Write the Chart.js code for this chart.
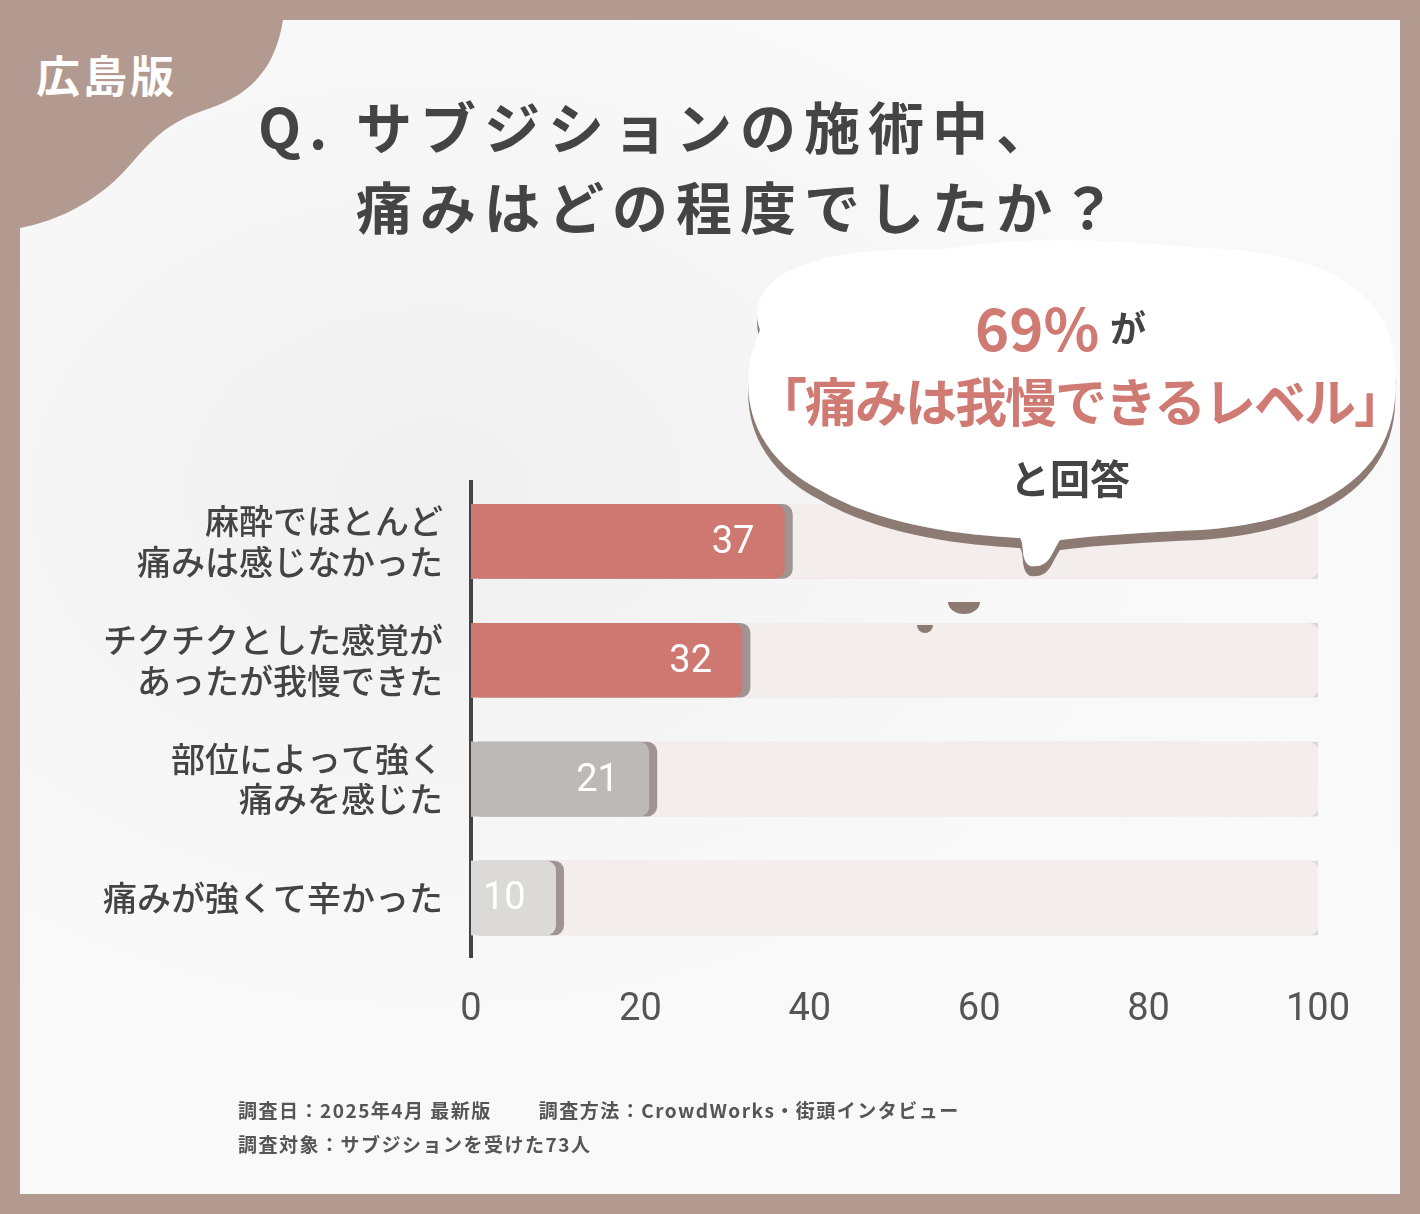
<!DOCTYPE html>
<html><head><meta charset="utf-8">
<script src="https://cdn.jsdelivr.net/npm/chart.js@4.4.0/dist/chart.umd.min.js"></script>
<style>
html,body{margin:0;padding:0;}
body{width:1420px;height:1214px;background:#b39a90;position:relative;overflow:hidden;font-family:"Noto Sans CJK JP",sans-serif;}
#inner{position:absolute;left:20px;top:20px;width:1380px;height:1174px;background:radial-gradient(ellipse at 30% 40%,#f1f0f0 0%,#f8f8f8 45%,#fafafa 100%);}
#c{position:absolute;left:0;top:0;}
.t{position:absolute;white-space:nowrap;}
</style></head><body>
<div id="inner"></div>
<svg style="position:absolute;left:0;top:0" width="1420" height="1214">
<path d="M20 20 L283 20 C275 70 250 95 205 110 C150 128 140 160 110 185 C80 210 50 222 20 228 Z" fill="#b39a90"/>
</svg>
<div class="t" style="left:36px;top:42px;font-size:44px;font-weight:700;color:#fff;letter-spacing:3px;">広島版</div>
<div class="t" style="left:258px;top:84px;font-size:56px;font-weight:700;color:#444;letter-spacing:8px;">Q. サブジションの施術中、</div>
<div class="t" style="left:356px;top:164px;font-size:56px;font-weight:700;color:#444;letter-spacing:8px;">痛みはどの程度でしたか？</div>
<canvas id="c" width="1420" height="1214"></canvas>
<svg style="position:absolute;left:0;top:0" width="1420" height="1214">
<defs><filter id="sh" x="-10%" y="-10%" width="120%" height="130%"><feDropShadow dx="0" dy="10" stdDeviation="0" flood-color="#8d7a73"/></filter></defs>
<g filter="url(#sh)">
<path d="M760 330 C740 270 830 245 940 250 C1020 235 1120 240 1200 248 C1320 250 1400 290 1395 380 C1400 460 1340 520 1200 530 C1150 532 1100 535 1060 540 C1050 555 1050 568 1030 566 C1020 560 1025 545 1020 538 C960 535 880 525 820 490 C760 460 730 400 760 330 Z" fill="#fff"/>
</g>
<path d="M917 625 a8 8 0 0 0 16 0" fill="#8d7a73"/>
<path d="M948 602 a16 12 0 0 0 32 0" fill="#8d7a73"/>
</svg>
<div class="t" style="left:975px;top:284px;font-size:58px;font-weight:700;color:#d07a74;">69%</div>
<div class="t" style="left:1110px;top:300px;font-size:36px;font-weight:700;color:#444;">が</div>
<div class="t" style="left:755px;top:362px;font-size:52px;font-weight:700;color:#d07a74;letter-spacing:-2px;">「痛みは我慢できるレベル」</div>
<div class="t" style="left:1010px;top:448px;font-size:40px;font-weight:700;color:#444;">と回答</div>
<div class="t" style="left:238px;top:1096px;font-size:19px;font-weight:700;color:#555;letter-spacing:1.5px;">調査日：2025年4月 最新版　　 調査方法：CrowdWorks・街頭インタビュー</div>
<div class="t" style="left:238px;top:1130px;font-size:19px;font-weight:700;color:#555;letter-spacing:1.5px;">調査対象：サブジションを受けた73人</div>
<script>
const categories=[["麻酔でほとんど","痛みは感じなかった"],["チクチクとした感覚が","あったが我慢できた"],["部位によって強く","痛みを感じた"],["痛みが強くて辛かった"]];
const values=[37,32,21,10];
const track=[100,100,100,100];
const barColors=['#cf7872','#cf7872','#bdb9b7','#dcdad9'];
const xTicks=[0,20,40,60,80,100];
const shadowPlugin={id:'sh',
 beforeDatasetDraw(c,a){const x=c.ctx;x.save();x.shadowColor=a.index===0?'rgba(0,0,0,0.12)':'rgba(60,40,40,0.45)';x.shadowOffsetX=8;x.shadowBlur=0;},
 afterDatasetDraw(c){c.ctx.restore();},
 afterDatasetsDraw(c){const x=c.ctx;const m=c.getDatasetMeta(1);x.save();x.fillStyle='#fff';x.font='38px Roboto';x.textAlign='right';x.textBaseline='middle';
  m.data.forEach((b,i)=>{x.fillText(values[i],b.x-30,b.y+2);});x.restore();}
};
const c=document.getElementById('c');
c.getContext('2d').letterSpacing='2px';
new Chart(c,{type:'bar',
 data:{labels:categories,datasets:[
  {data:track,backgroundColor:'#f3edeb',borderRadius:10,borderSkipped:'start',barThickness:74,grouped:false,order:2},
  {data:values,backgroundColor:barColors,borderRadius:10,borderSkipped:'start',barThickness:74,grouped:false,order:1}]},
 options:{indexAxis:'y',responsive:false,animation:false,devicePixelRatio:1,
  layout:{padding:{top:482,right:102,bottom:159,left:0}},
  plugins:{legend:{display:false},tooltip:{enabled:false}},
  scales:{
   x:{min:0,max:100,afterBuildTicks(s){s.ticks=xTicks.map(v=>({value:v}));},grid:{display:false},border:{display:false},
      ticks:{color:'#555',font:{size:38,family:'Roboto'},padding:22}},
   y:{grid:{display:false},border:{display:true,color:'#444',width:4},afterFit(s){s.width=471;},
      ticks:{color:'#444',font:{size:34,family:'"Noto Sans CJK JP"',weight:'500'},padding:20,crossAlign:'near'}}
  }},
 plugins:[shadowPlugin]});
</script>
</body></html>
